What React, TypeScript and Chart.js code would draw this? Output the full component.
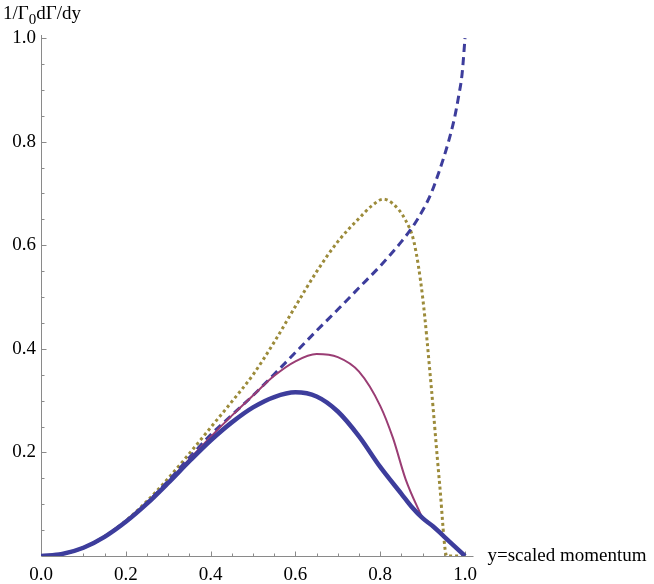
import { useEffect, useRef } from "react";
import { Chart, registerables } from "chart.js";

Chart.register(...registerables);

// ---- tick labels ----
const xTickValues = [0, 0.2, 0.4, 0.6, 0.8, 1.0];
const yTickValues = [0.2, 0.4, 0.6, 0.8, 1.0];
const xAxisLabel = "y=scaled momentum";
const yTitleParts = ["1/Γ", "0", "dΓ/dy"];

// ---- series: thick solid blue ----
const blueX = [0, 0.05, 0.1, 0.15, 0.2, 0.25, 0.3, 0.35, 0.4, 0.45, 0.5, 0.55, 0.6, 0.65, 0.7, 0.75, 0.8, 0.85, 0.875, 0.9, 0.925, 0.95, 1.0];
const blueY = [0, 0.004, 0.016, 0.037, 0.066, 0.101, 0.141, 0.183, 0.223, 0.258, 0.287, 0.307, 0.316, 0.308, 0.279, 0.231, 0.172, 0.12, 0.094, 0.073, 0.057, 0.038, 0];

// ---- series: thin solid purple ----
const purpleX = [0, 0.05, 0.1, 0.15, 0.2, 0.25, 0.3, 0.35, 0.4, 0.45, 0.5, 0.55, 0.6, 0.65, 0.7, 0.75, 0.8, 0.83, 0.86, 0.9];
const purpleY = [0, 0.004, 0.016, 0.037, 0.066, 0.102, 0.143, 0.187, 0.23, 0.271, 0.31, 0.348, 0.376, 0.39, 0.384, 0.356, 0.29, 0.228, 0.148, 0.072];

// ---- series: dashed blue ----
const dashedX = [0, 0.05, 0.1, 0.15, 0.2, 0.25, 0.3, 0.35, 0.4, 0.45, 0.5, 0.55, 0.6, 0.65, 0.7, 0.75, 0.8, 0.85, 0.88, 0.9, 0.92, 0.94, 0.96, 0.975, 0.985, 0.993, 1.0];
const dashedY = [0, 0.004, 0.016, 0.037, 0.067, 0.103, 0.145, 0.19, 0.234, 0.272, 0.31, 0.351, 0.393, 0.435, 0.476, 0.518, 0.56, 0.607, 0.64, 0.667, 0.7, 0.745, 0.797, 0.845, 0.888, 0.93, 1.0];

// ---- series: dotted olive ----
const oliveX = [0, 0.05, 0.1, 0.15, 0.2, 0.25, 0.3, 0.35, 0.4, 0.45, 0.5, 0.55, 0.6, 0.65, 0.7, 0.75, 0.78, 0.807, 0.83, 0.86, 0.88, 0.9, 0.92, 0.94, 0.957, 1.0];
const oliveY = [0, 0.004, 0.016, 0.038, 0.068, 0.106, 0.15, 0.198, 0.248, 0.298, 0.35, 0.413, 0.482, 0.549, 0.607, 0.652, 0.676, 0.689, 0.68, 0.648, 0.605, 0.5, 0.33, 0.14, 0, 0];

const SERIF = "'Liberation Serif', 'Times New Roman', serif";
const AXIS_COLOR = "#8a8a8a";

const toPoints = (xs: number[], ys: number[]) => xs.map((x, i) => ({ x, y: ys[i] }));
const fmt = (v: number) => v.toFixed(1);

const mmaAxes = {
  id: "mmaAxes",
  beforeDatasetsDraw(chart: any) {
    const { ctx } = chart;
    const xs = chart.scales.x;
    const ys = chart.scales.y;
    const x0 = Math.round(xs.getPixelForValue(0)) + 0.5;
    const y0 = Math.round(ys.getPixelForValue(0)) + 0.5;
    ctx.save();
    ctx.strokeStyle = AXIS_COLOR;
    ctx.lineWidth = 1;
    ctx.beginPath();
    ctx.moveTo(x0, y0);
    ctx.lineTo(xs.right, y0);
    ctx.moveTo(x0, y0);
    ctx.lineTo(x0, ys.top);
    ctx.stroke();
    // ticks: major every 0.2, minor every 0.05, pointing inward
    ctx.beginPath();
    for (let i = 1; i <= 20; i++) {
      const v = i * 0.05;
      const major = i % 4 === 0;
      const len = major ? 5 : 3;
      const px = Math.round(xs.getPixelForValue(v)) + 0.5;
      ctx.moveTo(px, y0);
      ctx.lineTo(px, y0 - len);
      const py = Math.round(ys.getPixelForValue(v)) + 0.5;
      ctx.moveTo(x0, py);
      ctx.lineTo(x0 + len, py);
    }
    ctx.stroke();
    ctx.restore();
  },
  afterDraw(chart: any) {
    const { ctx } = chart;
    const xs = chart.scales.x;
    const ys = chart.scales.y;
    const x0 = xs.getPixelForValue(0);
    const y0 = ys.getPixelForValue(0);
    ctx.save();
    ctx.fillStyle = "#000";
    ctx.font = `19px ${SERIF}`;
    // x tick labels (from the library's x ticks)
    ctx.textAlign = "center";
    ctx.textBaseline = "alphabetic";
    for (const t of xs.ticks) {
      ctx.fillText(fmt(t.value), xs.getPixelForValue(t.value), y0 + 24);
    }
    // y tick labels
    ctx.textAlign = "right";
    ctx.textBaseline = "middle";
    for (const t of ys.ticks) {
      ctx.fillText(fmt(t.value), x0 - 5, ys.getPixelForValue(t.value));
    }
    // x axis label to the right of the axis
    ctx.textAlign = "left";
    ctx.textBaseline = "alphabetic";
    ctx.fillText(xAxisLabel, xs.right + 14, y0 + 5);
    // y axis title with subscript
    let x = 3;
    const base = 19;
    ctx.fillText(yTitleParts[0], x, base);
    x += ctx.measureText(yTitleParts[0]).width;
    ctx.font = `15px ${SERIF}`;
    ctx.fillText(yTitleParts[1], x, base + 5);
    x += ctx.measureText(yTitleParts[1]).width;
    ctx.font = `19px ${SERIF}`;
    ctx.fillText(yTitleParts[2], x, base);
    ctx.restore();
  },
};

export default function App() {
  const ref = useRef<HTMLCanvasElement>(null);
  useEffect(() => {
    if (!ref.current) return;
    const chart = new Chart(ref.current, {
      type: "scatter",
      data: {
        datasets: [
          {
            data: toPoints(blueX, blueY),
            borderColor: "#3d3d9c",
            borderWidth: 4.5,
            showLine: true,
            pointRadius: 0,
            cubicInterpolationMode: "monotone",
          },
          {
            data: toPoints(purpleX, purpleY),
            borderColor: "#9a3d74",
            borderWidth: 2,
            showLine: true,
            pointRadius: 0,
            cubicInterpolationMode: "monotone",
          },
          {
            data: toPoints(dashedX, dashedY),
            borderColor: "#3d3d9c",
            borderWidth: 3,
            borderDash: [8, 5],
            showLine: true,
            pointRadius: 0,
            cubicInterpolationMode: "monotone",
          },
          {
            data: toPoints(oliveX, oliveY),
            borderColor: "#9c8b3a",
            borderWidth: 3,
            borderDash: [3, 3],
            showLine: true,
            pointRadius: 0,
            cubicInterpolationMode: "monotone",
          },
        ],
      },
      options: {
        animation: false,
        responsive: false,
        layout: { padding: { left: 0, top: 35, right: 180.5, bottom: 0 } },
        plugins: { legend: { display: false }, tooltip: { enabled: false } },
        scales: {
          x: {
            type: "linear",
            min: 0,
            max: 1.02,
            grid: { display: false, drawTicks: false },
            border: { display: false },
            afterBuildTicks: (scale: any) => {
              scale.ticks = xTickValues.map((v) => ({ value: v }));
            },
            afterFit: (scale: any) => {
              scale.height = 28;
            },
            ticks: { display: false },
          },
          y: {
            type: "linear",
            min: 0,
            max: 1.006,
            grid: { display: false, drawTicks: false },
            border: { display: false },
            afterBuildTicks: (scale: any) => {
              scale.ticks = yTickValues.map((v) => ({ value: v }));
            },
            afterFit: (scale: any) => {
              scale.width = 41;
            },
            ticks: { display: false },
          },
        },
      },
      plugins: [mmaAxes],
    });
    return () => chart.destroy();
  }, []);
  return (
    <div style={{ position: "absolute", left: 0, top: 0, width: 654, height: 584, background: "#fff" }}>
      <canvas ref={ref} width={654} height={584} />
    </div>
  );
}
